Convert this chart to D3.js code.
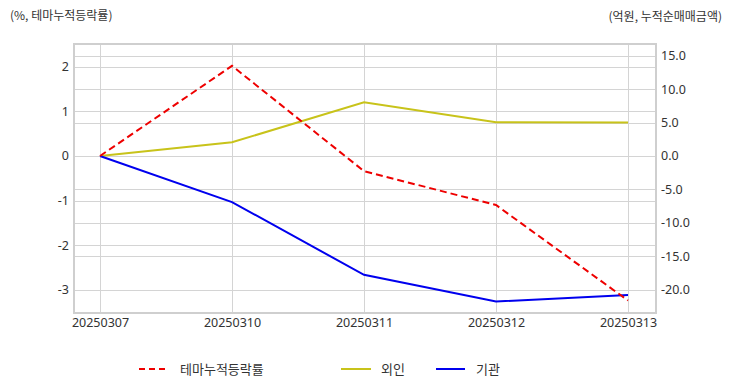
<!DOCTYPE html>
<html><head><meta charset="utf-8">
<script src="https://cdn.jsdelivr.net/npm/d3@7"></script>
<style>
body{margin:0;background:#fff;}
text{font-family:"Noto Sans CJK KR","Noto Sans",sans-serif;fill:#333;}
</style></head>
<body><svg id="c" width="732" height="392"></svg>
<script>
const dates = ["20250307","20250310","20250311","20250312","20250313"];
const themeRate = [0, 2.02, -0.34, -1.10, -3.24];
const foreign = [0, 2.05, 8.04, 5.04, 5.02];
const institution = [0, -6.9, -17.8, -21.8, -20.8];
const leftTicks = [2, 1, 0, -1, -2, -3];
const rightTicks = [15, 10, 5, 0, -5, -10, -15, -20];
const seriesNames = ["테마누적등락률", "외인", "기관"];

const svg = d3.select("#c");
const L = 74, R = 656, T = 44, B = 313;
const x = d3.scalePoint().domain(dates).range([100, 628]);
const yL = d3.scaleLinear().domain([-3.52, 2.51]).range([B, T]);
const yR = d3.scaleLinear().domain([-3.52*6.68, 2.51*6.68]).range([B, T]);
const hy = f => d => f(d).replace("\u2212", "-");

const g = svg.append("g");
g.selectAll(".gl").data(leftTicks).enter().append("line")
 .attr("x1", L).attr("x2", R).attr("y1", d=>Math.round(yL(d))+0.5).attr("y2", d=>Math.round(yL(d))+0.5)
 .attr("stroke", "#d4d4d4").attr("stroke-width",1);
g.selectAll(".gr").data(rightTicks).enter().append("line")
 .attr("x1", L).attr("x2", R).attr("y1", d=>Math.round(yR(d))+0.5).attr("y2", d=>Math.round(yR(d))+0.5)
 .attr("stroke", "#d4d4d4").attr("stroke-width",1);
g.selectAll(".gx").data(dates).enter().append("line")
 .attr("x1", d=>Math.round(x(d))+0.5).attr("x2", d=>Math.round(x(d))+0.5).attr("y1", T).attr("y2", B)
 .attr("stroke", "#d4d4d4").attr("stroke-width",1);
g.append("rect").attr("x", L).attr("y", T).attr("width", R-L).attr("height", B-T)
 .attr("fill","none").attr("stroke","#cfcfcf").attr("stroke-width",2);

const fnt = "'Noto Sans','Noto Sans CJK KR',sans-serif";
const axL = d3.axisLeft(yL).tickValues(leftTicks).tickSize(0).tickPadding(0).tickFormat(hy(d3.format("d")));
svg.append("g").attr("transform", `translate(${L-5},0)`).call(axL)
 .call(s=>s.select(".domain").remove())
 .selectAll("text").attr("font-size", 12.5).attr("fill", "#333").style("font-family", fnt);
const axR = d3.axisRight(yR).tickValues(rightTicks).tickSize(0).tickPadding(0).tickFormat(hy(d3.format(".1f")));
svg.append("g").attr("transform", `translate(${R+5},0)`).call(axR)
 .call(s=>s.select(".domain").remove())
 .selectAll("text").attr("font-size", 12.5).attr("fill", "#333").style("font-family", fnt);
const axX = d3.axisBottom(x).tickSize(0).tickPadding(0);
svg.append("g").attr("transform", `translate(0,${B+5})`).call(axX)
 .call(s=>s.select(".domain").remove())
 .selectAll("text").attr("font-size", 12.5).attr("fill", "#333").style("font-family", fnt);

const lineL = d3.line().x((d,i)=>x(dates[i])).y(d=>yL(d));
const lineR = d3.line().x((d,i)=>x(dates[i])).y(d=>yR(d));
svg.append("path").attr("d", lineR(foreign)).attr("fill","none").attr("stroke","#c8c31a").attr("stroke-width",2);
svg.append("path").attr("d", lineR(institution)).attr("fill","none").attr("stroke","#0000ee").attr("stroke-width",2);
svg.append("path").attr("d", lineL(themeRate)).attr("fill","none").attr("stroke","#ee0000").attr("stroke-width",2).attr("stroke-dasharray","7,4");

svg.append("text").attr("x", 10).attr("y", 20).attr("font-size", 12).text("(%, 테마누적등락률)");
svg.append("text").attr("x", 722).attr("y", 21).attr("font-size", 12).attr("text-anchor","end").text("(억원, 누적순매매금액)");

const leg = [
 {name: seriesNames[0], color:"#ee0000", dash:"6,4", x1:139, x2:167, tx:180},
 {name: seriesNames[1], color:"#c8c31a", dash:null, x1:341, x2:371, tx:381},
 {name: seriesNames[2], color:"#0000ee", dash:null, x1:436, x2:465, tx:476}
];
leg.forEach(l=>{
  svg.append("line").attr("x1", l.x1).attr("x2", l.x2).attr("y1", 369).attr("y2", 369)
   .attr("stroke", l.color).attr("stroke-width", 2).attr("stroke-dasharray", l.dash);
  svg.append("text").attr("x", l.tx).attr("y", 374).attr("font-size", 13).text(l.name);
});
</script></body></html>
